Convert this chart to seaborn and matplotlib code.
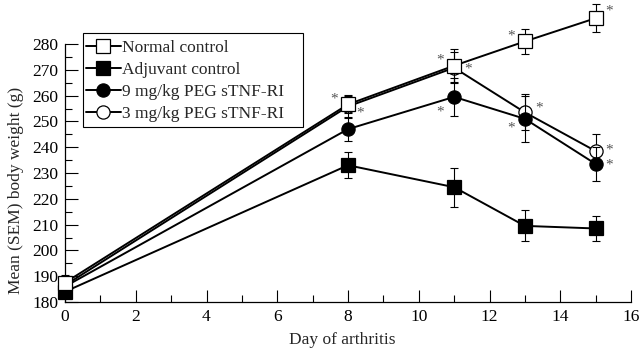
import matplotlib
matplotlib.use("Agg")
import matplotlib.pyplot as plt
import seaborn as sns
import numpy as np
from matplotlib.ticker import MultipleLocator
from matplotlib.patches import Rectangle

days = [0, 8, 11, 13, 15]
normal = [187.5, 256.6, 271.6, 281, 290]
normal_sem = [3, 3.5, 6.5, 5, 5.5]
adjuvant = [184, 233, 224.5, 209.5, 208.5]
adjuvant_sem = [2, 5, 7.5, 6, 5]
peg9 = [186, 247, 259.5, 251, 233.5]
peg9_sem = [2.5, 4.5, 7.5, 9, 6.5]
peg3 = [186.5, 255.8, 270.8, 253.5, 238.5]
peg3_sem = [2.5, 4, 6, 7, 6.5]
labels = ["Normal control", "Adjuvant control", "9 mg/kg PEG sTNF-RI", "3 mg/kg PEG sTNF-RI"]

sns.set_style("ticks")
plt.rcParams['font.family'] = ['Liberation Serif', 'DejaVu Serif']
plt.rcParams['font.size'] = 12.5

W, H = 640, 349
fig = plt.figure(figsize=(6.4, 3.49), dpi=100)
ax = fig.add_axes([65 / W, 1 - 302 / H, 566 / W, 258 / H])

series = [
    (normal, normal_sem, 's', 'white', 6, labels[0]),
    (adjuvant, adjuvant_sem, 's', 'black', 3, labels[1]),
    (peg9, peg9_sem, 'o', 'black', 4, labels[2]),
    (peg3, peg3_sem, 'o', 'white', 3, labels[3]),
]
for vals, sem, mk, fc, z, lab in series:
    ax.errorbar(days, vals, yerr=sem, fmt='none', ecolor='black', elinewidth=0.8,
                capsize=3, capthick=0.8, zorder=z - 0.5, clip_on=False)
    sns.lineplot(x=days, y=vals, ax=ax, color='black', marker=mk, markersize=9.5,
                 markerfacecolor=fc, markeredgecolor='black', markeredgewidth=0.9,
                 linewidth=1.4, label=lab, zorder=z, clip_on=False)

# significance asterisks
stars = [
    (8, normal[1], -10, 4), (8, peg3[1], 9, -5),
    (11, normal[2], -10, 4), (11, peg3[2], 10, -1), (11, peg9[2], -10, -11),
    (13, normal[3], -10, 4), (13, peg3[3], 10, 3), (13, peg9[3], -10, -7),
    (15, normal[4], 10, 5), (15, peg3[4], 10, 1), (15, peg9[4], 10, -1),
]
for x, y, dx, dy in stars:
    ax.annotate("*", (x, y), xytext=(dx, dy), textcoords='offset points',
                ha='center', va='center', fontsize=11, color='#555555',
                annotation_clip=False)

ax.set_xlim(0, 16)
ax.set_ylim(180, 280)
ax.xaxis.set_major_locator(MultipleLocator(2))
ax.xaxis.set_minor_locator(MultipleLocator(1))
ax.yaxis.set_major_locator(MultipleLocator(10))
ax.yaxis.set_minor_locator(MultipleLocator(5))
ax.tick_params(which='both', direction='in', colors='black', labelsize=12.5)
ax.tick_params(which='major', length=9, width=0.8)
ax.tick_params(which='minor', length=5, width=0.8)
ax.tick_params(axis='y', pad=5)
ax.tick_params(axis='x', pad=5)
sns.despine(ax=ax)
for s in ['left', 'bottom']:
    ax.spines[s].set_linewidth(0.9)
    ax.spines[s].set_color('black')

ax.set_xlabel("Day of arthritis", fontsize=12.5)
ax.xaxis.set_label_coords(0.489, -0.118)
ax.set_ylabel("Mean (SEM) body weight (g)", fontsize=12.5)
ax.yaxis.set_label_coords(-0.072, 0.434)

leg = ax.legend(loc='upper left', bbox_to_anchor=(86 / W, 1 - 40 / H),
                bbox_transform=fig.transFigure, frameon=False, fontsize=12.5,
                handlelength=2.0, handletextpad=0.1, borderpad=0.0,
                labelspacing=0.34, borderaxespad=0)
leg.set_zorder(20)
ax.add_patch(Rectangle((83 / W, 1 - 127 / H), 220 / W, 94 / H,
                       transform=fig.transFigure, fill=True, facecolor='white',
                       edgecolor='black', linewidth=0.8, zorder=19, clip_on=False))

fig.savefig("out.png", dpi=100)
